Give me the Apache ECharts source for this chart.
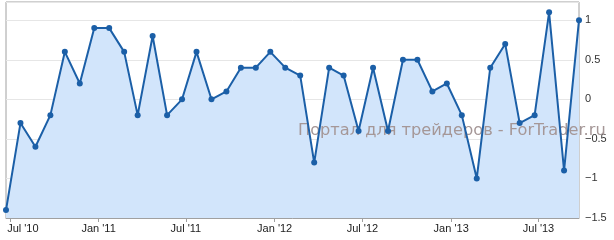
<!DOCTYPE html>
<html><head><meta charset="utf-8">
<script src="https://cdn.jsdelivr.net/npm/echarts@6/dist/echarts.min.js"></script>
<style>html,body{margin:0;padding:0;background:#fff}#c{width:614px;height:240px}</style>
</head><body><div id="c"></div>
<script>
const months = ['2010-06','2010-07','2010-08','2010-09','2010-10','2010-11','2010-12',
'2011-01','2011-02','2011-03','2011-04','2011-05','2011-06','2011-07','2011-08','2011-09','2011-10','2011-11','2011-12',
'2012-01','2012-02','2012-03','2012-04','2012-05','2012-06','2012-07','2012-08','2012-09','2012-10','2012-11','2012-12',
'2013-01','2013-02','2013-03','2013-04','2013-05','2013-06','2013-07','2013-08','2013-09'];
const values = [-1.4,-0.3,-0.6,-0.2,0.6,0.2,0.9,0.9,0.6,-0.2,0.8,-0.2,0,0.6,0,0.1,0.4,0.4,0.6,0.4,0.3,
-0.8,0.4,0.3,-0.4,0.4,-0.4,0.5,0.5,0.1,0.2,-0.2,-1.0,0.4,0.7,-0.3,-0.2,1.1,-0.9,1.0];
const xTickDates = ['2010-07-01','2011-01-01','2011-07-01','2012-01-01','2012-07-01','2013-01-01','2013-07-01'];
const yTicks = [-1.5,-1,-0.5,0,0.5,1];
const watermark = 'Портал для трейдеров - ForTrader.ru';

const DAY = 86400000;
const ts = s => new Date(s + 'T00:00:00Z').getTime() / DAY;
const data = months.map((m, i) => [ts(m + '-23'), values[i]]);
const tickTs = xTickDates.map(ts);
const mn = ['Jan','Feb','Mar','Apr','May','Jun','Jul','Aug','Sep','Oct','Nov','Dec'];
const chart = echarts.init(document.getElementById('c'));
chart.setOption({
  animation: false,
  grid: {left: 6, right: 35, top: 2, bottom: 22, show: true, borderColor: '#a0a0a0', borderWidth: 1,
         containLabel: false, outerBoundsMode: 'none'},
  xAxis: {
    type: 'value',
    min: data[0][0], max: data[data.length-1][0],
    axisLine: {onZero: false, lineStyle: {color: '#a0a0a0'}},
    axisTick: {show: true, length: 4, lineStyle: {color: '#a0a0a0'}, customValues: tickTs},
    splitLine: {show: false},
    axisLabel: {
      customValues: tickTs, margin: 5, color: '#222', fontFamily: 'Liberation Sans', fontSize: 11,
      formatter: v => {
        const d = new Date(v * DAY);
        const t = mn[d.getUTCMonth()] + " '" + String(d.getUTCFullYear()).slice(2);
        return v === tickTs[0] ? '{f|' + t + '}' : t;
      },
      rich: {f: {padding: [0, 0, 0, 26], color: '#222', fontFamily: 'Liberation Sans', fontSize: 11}}
    }
  },
  yAxis: {
    type: 'value', position: 'right', min: -1.5, max: 1.23, interval: 0.5,
    axisLine: {show: false}, axisTick: {show: false},
    splitLine: {lineStyle: {color: '#e6e6e6'}},
    axisLabel: {
      customValues: yTicks, margin: 6, color: '#333', fontFamily: 'Liberation Sans', fontSize: 11,
      formatter: v => (v < 0 ? '\u2212' + String(-v) : String(v))
    }
  },
  graphic: [{
    type: 'text', left: 298, top: 123, z: 2,
    style: {text: watermark, font: '16.2px "DejaVu Sans"', fill: '#a59797'}
  }],
  series: [{
    type: 'line', data: data, symbol: 'none', z: 1,
    lineStyle: {width: 0, opacity: 0},
    areaStyle: {color: '#d2e5fb', opacity: 1, origin: 'start'}
  }, {
    type: 'line', data: data, symbol: 'circle', symbolSize: 6, z: 3,
    lineStyle: {color: '#1b5fa7', width: 2},
    itemStyle: {color: '#1b5fa7'}
  }]
});
</script></body></html>
